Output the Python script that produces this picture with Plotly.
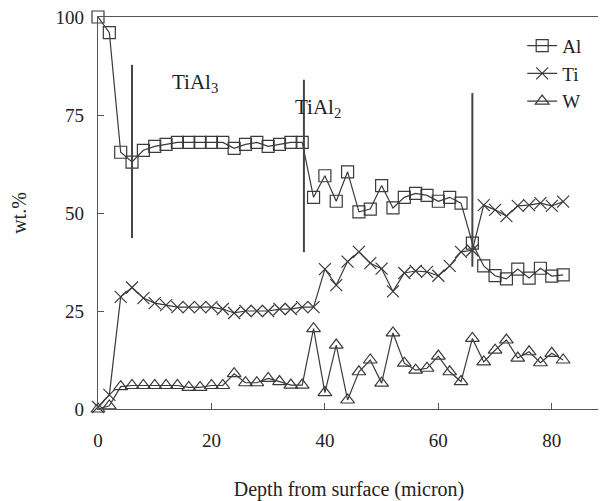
import plotly.graph_objects as go

depth = [0, 2, 4, 6, 8, 10, 12, 14, 16, 18, 20, 22, 24, 26, 28, 30, 32, 34, 36, 38,
         40, 42, 44, 46, 48, 50, 52, 54, 56, 58, 60, 62, 64, 66, 68, 70, 72, 74, 76, 78, 80, 82]

al = [100, 96, 65.5, 63, 66, 67, 67.5, 68, 68, 68, 68, 68, 66.5, 67.5, 68, 67, 67.5, 68, 68, 54,
      59.5, 53, 60.5, 50.3, 51, 57, 51.3, 54, 55, 54.5, 53, 54, 52.5, 42.3, 36.5, 34, 33.2, 35.7, 33.4, 35.9, 33.9, 34.2]

ti = [0.5, 3.6, 28.6, 31, 28.3, 27, 26.5, 26, 26, 26, 26, 25.5, 24.5, 25, 25, 25, 25.5, 25.5, 26, 26,
      35.7, 31.6, 37.6, 40.1, 37.2, 35.8, 30, 34.7, 35.2, 35, 34, 36.5, 40.1, 40.5, 52, 50.8, 49.2, 51.8, 52, 52.5, 51.8, 52.9]

w = [0, 0.8, 5.7, 6, 6, 6, 6, 6, 5.5, 5.5, 6, 6, 9, 6.7, 6.7, 7.8, 7, 6.1, 6.1, 20.5,
     4.2, 16.3, 2.3, 9.5, 12.5, 6.6, 19.4, 11.7, 9.9, 10.4, 13.5, 9.5, 7, 18, 12, 15, 17.6, 13, 14.6, 11.8, 14.2, 12.5]

boundary_x = [6, 36.3, 66]
boundary_top = [87.8, 84, 80.6]
boundary_bottom = [43.6, 40, 36.3]

phase_labels = ["TiAl<sub>3</sub>", "TiAl<sub>2</sub>"]
phase_x = [17.1, 38.8]
phase_y = [83.2, 76.8]

FONT = "Liberation Serif"
LC = "#3a3a3a"

fig = go.Figure()

series = [("Al", al, "square-open"), ("Ti", ti, "x-thin-open"), ("W", w, "triangle-up-open")]
for name, vals, sym in series:
    fig.add_trace(go.Scatter(
        x=depth, y=vals, name=name, mode="lines+markers", cliponaxis=False,
        line=dict(color=LC, width=1.2),
        marker=dict(symbol=sym, size=12, color=LC, line=dict(color=LC, width=1.2)),
    ))

for bx, bt, bb in zip(boundary_x, boundary_top, boundary_bottom):
    fig.add_trace(go.Scatter(
        x=[bx, bx], y=[bb, bt], mode="lines", showlegend=False,
        line=dict(color="#444444", width=2), hoverinfo="skip",
    ))

for txt, px, py in zip(phase_labels, phase_x, phase_y):
    fig.add_annotation(x=px, y=py, text=txt, showarrow=False,
                       font=dict(family=FONT, size=21, color="#222"))

# page body has an 8px default margin, so the figure is sized to fit the window
fig.update_layout(
    width=598, height=493,
    margin=dict(l=90, r=6, t=9, b=92),
    paper_bgcolor="white", plot_bgcolor="white",
    font=dict(family=FONT, size=19, color="#222"),
    legend=dict(x=0.845, y=0.975, xanchor="left", yanchor="top",
                font=dict(family=FONT, size=19, color="#222"),
                bgcolor="rgba(0,0,0,0)", itemwidth=30, tracegroupgap=0),
    showlegend=True,
)

fig.update_xaxes(
    range=[0, 88.5], tickvals=[0, 20, 40, 60, 80], ticks="inside", ticklen=6,
    tickcolor="#555", showline=True, linecolor="#555", linewidth=1.2, mirror=True,
    showgrid=False, zeroline=False, ticklabelstandoff=14, automargin=False,
    ticklabeloverflow="allow",
    tickfont=dict(family=FONT, size=19),
    title=dict(text="Depth from surface (micron)", font=dict(family=FONT, size=20), standoff=32),
)
fig.update_yaxes(
    range=[0, 100], tickvals=[0, 25, 50, 75, 100], ticks="inside", ticklen=6,
    tickcolor="#555", showline=True, linecolor="#555", linewidth=1.2, mirror=False,
    showgrid=False, zeroline=False, ticklabelstandoff=9, automargin=False,
    ticklabeloverflow="allow",
    tickfont=dict(family=FONT, size=19),
    title=dict(text="wt.%", font=dict(family=FONT, size=20), standoff=33),
)

fig.write_html("out.html")
